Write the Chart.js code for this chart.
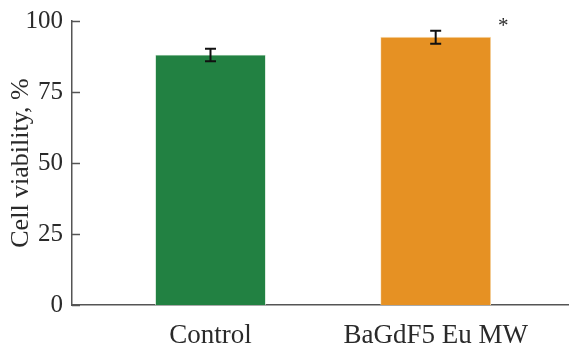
<!DOCTYPE html>
<html>
<head>
<meta charset="utf-8">
<script src="https://cdn.jsdelivr.net/npm/chart.js@4/dist/chart.umd.min.js"></script>
<style>
  html, body { margin: 0; padding: 0; background: #fff; }
  #wrap { width: 569px; height: 352px; }
</style>
</head>
<body>
<div id="wrap"><canvas id="c" width="569" height="352"></canvas></div>
<script>
// Groups, mean viability and its spread
const categories = ['Control', 'BaGdF5 Eu MW'];
const viability = [88, 94.3];
const errors = [2.2, 2.3];
const marks = ['', '*'];
const barColors = ['#228142', '#E69123'];
const yTicks = [0, 25, 50, 75, 100];

const FONT = '"Liberation Serif", "Times New Roman", serif';
const INK = '#2a2a2a';

// Error bars with caps, plus significance marks
const errorBarPlugin = {
  id: 'errorBars',
  afterDatasetsDraw(chart) {
    const { ctx, scales: { x, y } } = chart;
    ctx.save();
    ctx.strokeStyle = '#111';
    ctx.lineWidth = 2;
    viability.forEach((v, i) => {
      const px = x.getPixelForValue(i);
      const top = y.getPixelForValue(v + errors[i]);
      const bot = y.getPixelForValue(v - errors[i]);
      ctx.beginPath();
      ctx.moveTo(px, top); ctx.lineTo(px, bot);
      ctx.moveTo(px - 5.5, top); ctx.lineTo(px + 5.5, top);
      ctx.moveTo(px - 5.5, bot); ctx.lineTo(px + 5.5, bot);
      ctx.stroke();
      if (marks[i]) {
        ctx.fillStyle = INK;
        ctx.font = '21px ' + FONT;
        ctx.textAlign = 'center';
        ctx.textBaseline = 'middle';
        ctx.fillText(marks[i], x.getPixelForValue(i + 0.3), y.getPixelForValue(v + errors[i]) - 4);
      }
    });
    ctx.restore();
  }
};

// Inward tick marks on the value axis
const innerTicksPlugin = {
  id: 'innerTicks',
  afterDraw(chart) {
    const { ctx, scales: { y }, chartArea } = chart;
    ctx.save();
    ctx.strokeStyle = '#555';
    ctx.lineWidth = 1.5;
    y.ticks.forEach(t => {
      const py = Math.round(y.getPixelForValue(t.value)) + 0.5;
      ctx.beginPath();
      ctx.moveTo(chartArea.left, py);
      ctx.lineTo(chartArea.left + 8, py);
      ctx.stroke();
    });
    ctx.restore();
  }
};

new Chart(document.getElementById('c'), {
  type: 'bar',
  data: {
    datasets: [{
      data: viability.map((v, i) => ({ x: i, y: v })),
      backgroundColor: barColors,
      borderColor: ['#cfe6d4', '#f7dcb3'],
      borderWidth: 0.8,
      barThickness: 110
    }]
  },
  options: {
    responsive: false,
    animation: false,
    devicePixelRatio: 1,
    layout: { padding: { top: 21, right: 0, left: 0, bottom: 0 } },
    plugins: { legend: { display: false }, tooltip: { enabled: false } },
    scales: {
      x: {
        type: 'linear',
        offset: false,
        min: -0.615,
        max: 1.592,
        afterBuildTicks(scale) { scale.ticks = categories.map((_, i) => ({ value: i })); },
        afterFit(scale) { scale.height = 47; scale.paddingLeft = 0; scale.paddingRight = 0; },
        ticks: {
          callback: v => categories[v],
          color: INK,
          font: { family: FONT, size: 27 },
          padding: 15,
          maxRotation: 0,
          autoSkip: false
        },
        grid: { display: false, drawTicks: false },
        border: { color: '#555', width: 1.5 }
      },
      y: {
        min: 0,
        max: 100,
        afterBuildTicks(scale) { scale.ticks = yTicks.map(v => ({ value: v })); },
        afterFit(scale) { scale.width = 72; scale.paddingTop = 0; scale.paddingBottom = 0; },
        ticks: {
          color: INK,
          font: { family: FONT, size: 25 },
          padding: 9
        },
        grid: { display: false, drawTicks: false },
        border: { color: '#555', width: 1.5 },
        title: {
          display: true,
          text: 'Cell viability, %',
          color: INK,
          font: { family: FONT, size: 26 },
          padding: { top: 6, bottom: 0 }
        }
      }
    }
  },
  plugins: [errorBarPlugin, innerTicksPlugin]
});
</script>
</body>
</html>
